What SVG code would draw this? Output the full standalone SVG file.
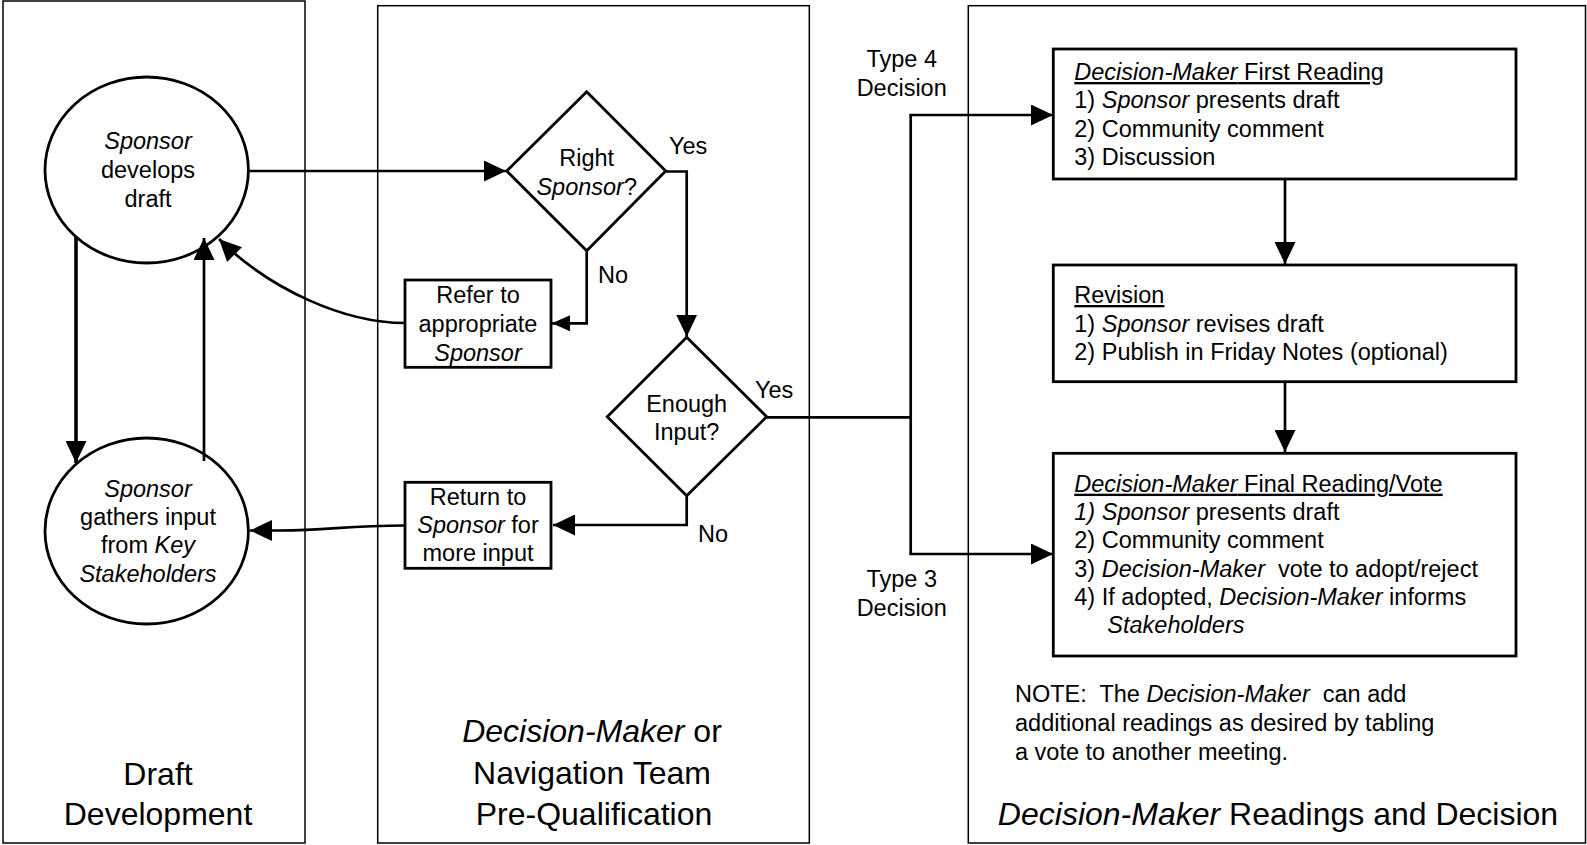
<svg xmlns="http://www.w3.org/2000/svg" width="1587" height="845" viewBox="0 0 1587 845">
<style>
text{font-family:"Liberation Sans",Arial,Helvetica,sans-serif;font-size:23.5px;fill:#000}
.c{text-anchor:middle}
.t{font-size:32px}
.i{font-style:italic}
.u{text-decoration:underline}
.lane{fill:none;stroke:#000;stroke-width:1.5}
.shape{fill:#fff;stroke:#000;stroke-width:2.8}
.con{fill:none;stroke:#000;stroke-width:2.7}
</style>
<defs>
<marker id="ah" markerUnits="userSpaceOnUse" markerWidth="22" markerHeight="21" refX="22" refY="10.5" orient="auto">
<path d="M0,0 L22,10.5 L0,21 z" fill="#000"/>
</marker>
<marker id="ahs" markerUnits="userSpaceOnUse" markerWidth="18" markerHeight="16" refX="18" refY="8" orient="auto">
<path d="M0,0 L18,8 L0,16 z" fill="#000"/>
</marker>
</defs>
<rect width="1587" height="845" fill="#fff"/>
<g id="lane-draft">
<rect class="lane" x="3" y="1" width="302" height="842"/>
<text class="c t" x="158" y="785">Draft</text>
<text class="c t" x="158" y="825">Development</text>
</g>
<g id="lane-prequal">
<rect class="lane" x="377.7" y="5.7" width="431.6" height="837.3"/>
<text class="c t" x="592" y="742"><tspan class="i">Decision-Maker</tspan> or</text>
<text class="c t" x="592" y="783.5">Navigation Team</text>
<text class="c t" x="594" y="825">Pre-Qualification</text>
</g>
<g id="lane-readings">
<rect class="lane" x="968.3" y="5.7" width="617.2" height="837.3"/>
<text class="c t" x="1278" y="825"><tspan class="i">Decision-Maker</tspan> Readings and Decision</text>
</g>
<g id="connectors">
<path class="con" d="M249.5,171 L506,171" marker-end="url(#ah)"/>
<path class="con" d="M665.7,171.5 H686.7 V336.7" marker-end="url(#ah)"/>
<path class="con" d="M586.7,250.7 V323.3 H552" marker-end="url(#ahs)"/>
<path class="con" d="M405,323 C345,323 270,290 219,239" marker-end="url(#ah)"/>
<path class="con" d="M766.7,417.3 H910.7"/>
<path class="con" d="M910.7,115 V554"/>
<path class="con" d="M909.4,115 H1053" marker-end="url(#ah)"/>
<path class="con" d="M909.4,554 H1053" marker-end="url(#ah)"/>
<path class="con" d="M686.7,495.7 V525 H553" marker-end="url(#ah)"/>
<path class="con" d="M405,525.5 C345,525.5 330,530.5 280,530.5 L250,530.5" marker-end="url(#ah)"/>
<path class="con" style="stroke-width:3.6" d="M76,237 V463" marker-end="url(#ah)"/>
<path class="con" d="M204,461 V238" marker-end="url(#ah)"/>
<path class="con" d="M1285,179 V264" marker-end="url(#ah)"/>
<path class="con" d="M1285,381.7 V452" marker-end="url(#ah)"/>
</g>
<g id="sponsor-develops">
<ellipse class="shape" cx="146.7" cy="170" rx="101.7" ry="93" style="fill:none"/>
<text class="c i" x="148" y="149.3">Sponsor</text>
<text class="c" x="148" y="178.3">develops</text>
<text class="c" x="148" y="207.3">draft</text>
</g>
<g id="sponsor-gathers">
<ellipse class="shape" cx="146.7" cy="531" rx="101.7" ry="93" style="fill:none"/>
<text class="c i" x="148" y="496.7">Sponsor</text>
<text class="c" x="148" y="525">gathers input</text>
<text class="c" x="148" y="553.3">from <tspan class="i">Key</tspan></text>
<text class="c i" x="148" y="581.7">Stakeholders</text>
</g>
<g id="right-sponsor">
<path class="shape" d="M586.7,91.7 L665.7,171 L586.7,250.7 L506.7,171 z"/>
<text class="c" x="586.7" y="166">Right</text>
<text class="c" x="586.7" y="195"><tspan class="i">Sponsor</tspan>?</text>
<text x="669" y="154">Yes</text>
<text x="598" y="283.3">No</text>
</g>
<g id="refer">
<rect class="shape" x="405" y="280" width="146" height="87.3"/>
<text class="c" x="478" y="302.7">Refer to</text>
<text class="c" x="478" y="331.7">appropriate</text>
<text class="c i" x="478" y="360.7">Sponsor</text>
</g>
<g id="enough-input">
<path class="shape" d="M686.7,337.3 L766.7,416.7 L686.7,495.7 L607.3,416.7 z"/>
<text class="c" x="686.7" y="411.7">Enough</text>
<text class="c" x="686.7" y="440">Input?</text>
<text x="755" y="398">Yes</text>
<text x="698" y="541.7">No</text>
</g>
<g id="return">
<rect class="shape" x="405" y="482.3" width="146" height="86"/>
<text class="c" x="478" y="505">Return to</text>
<text class="c" x="478" y="533.3"><tspan class="i">Sponsor</tspan> for</text>
<text class="c" x="478" y="560.7">more input</text>
</g>
<g id="type-labels">
<text class="c" x="901.7" y="66.7">Type 4</text>
<text class="c" x="901.7" y="96">Decision</text>
<text class="c" x="901.7" y="586.7">Type 3</text>
<text class="c" x="901.7" y="616">Decision</text>
</g>
<g id="first-reading">
<rect class="shape" x="1053.3" y="49" width="462.7" height="130"/>
<text class="u" x="1074.3" y="80"><tspan class="i">Decision-Maker</tspan> First Reading</text>
<text x="1074.3" y="108.3">1) <tspan class="i">Sponsor</tspan> presents draft</text>
<text x="1074.3" y="136.7">2) Community comment</text>
<text x="1074.3" y="165">3) Discussion</text>
</g>
<g id="revision">
<rect class="shape" x="1053.3" y="265" width="462.7" height="116.7"/>
<text class="u" x="1074.3" y="303">Revision</text>
<text x="1074.3" y="332">1) <tspan class="i">Sponsor</tspan> revises draft</text>
<text x="1074.3" y="360">2) Publish in Friday Notes (optional)</text>
</g>
<g id="final-reading">
<rect class="shape" x="1053.3" y="453.3" width="462.7" height="202.7"/>
<text class="u" x="1074.3" y="491.7"><tspan class="i">Decision-Maker</tspan> Final Reading/Vote</text>
<text x="1074.3" y="520"><tspan class="i">1) Sponsor</tspan> presents draft</text>
<text x="1074.3" y="548.3">2) Community comment</text>
<text x="1074.3" y="576.7" xml:space="preserve">3) <tspan class="i">Decision-Maker</tspan>  vote to adopt/reject</text>
<text x="1074.3" y="605">4) If adopted, <tspan class="i">Decision-Maker</tspan> informs</text>
<text class="i" x="1107.3" y="633.3">Stakeholders</text>
</g>
<g id="note">
<text x="1015" y="701.7" xml:space="preserve">NOTE:  The <tspan class="i">Decision-Maker</tspan>  can add</text>
<text x="1015" y="730.7">additional readings as desired by tabling</text>
<text x="1015" y="760">a vote to another meeting.</text>
</g>
</svg>
